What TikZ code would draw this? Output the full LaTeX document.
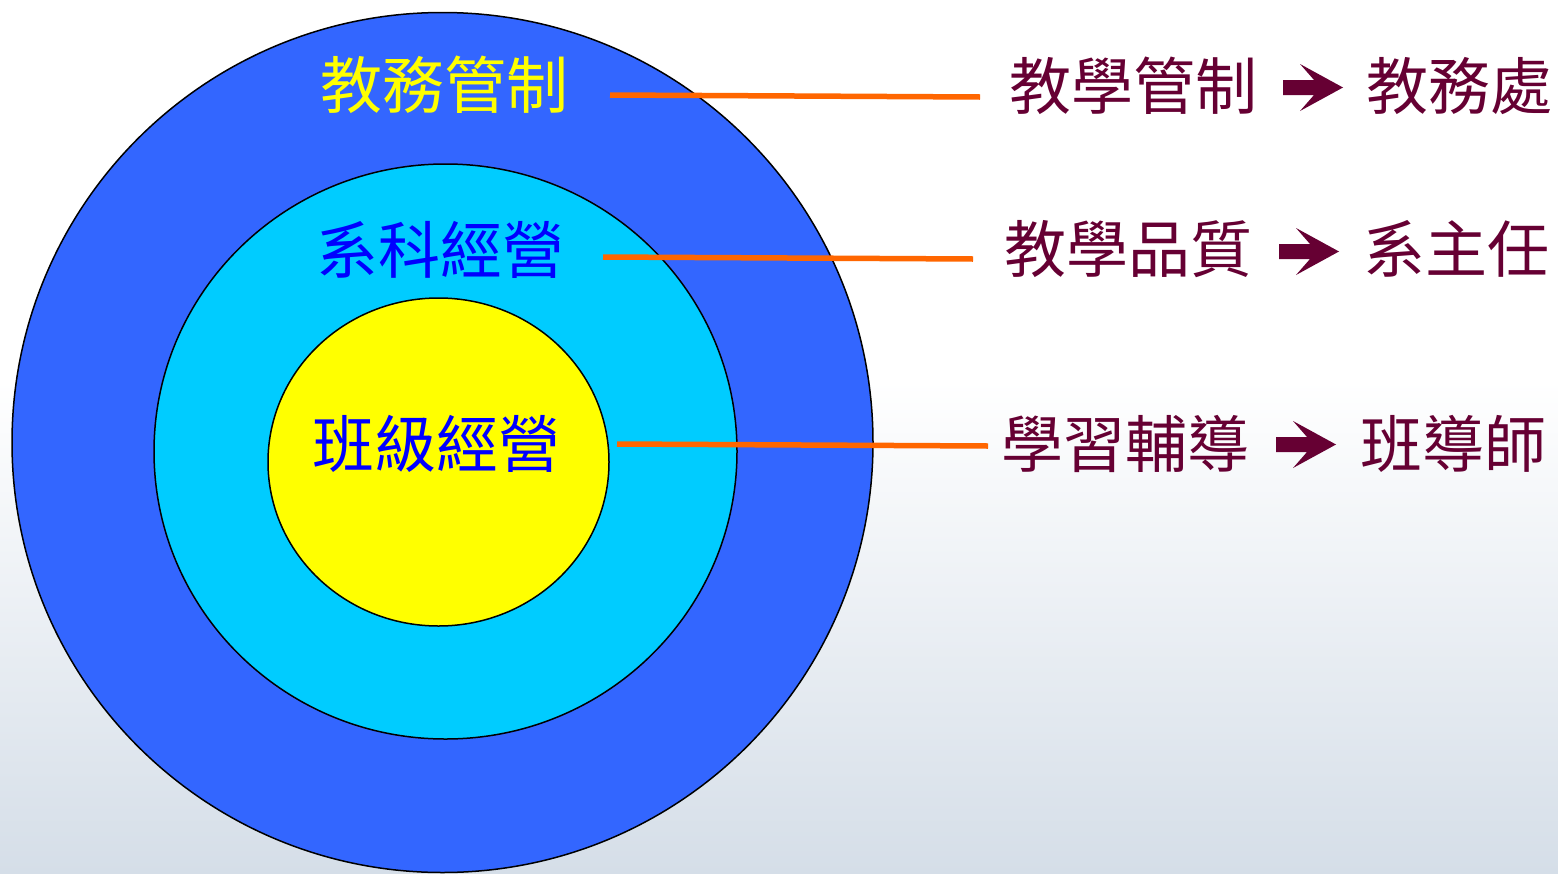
\documentclass[tikz,border=0pt]{standalone}
\usepackage{fontspec}
\newfontfamily\cjk{Noto Sans CJK TC}
\definecolor{ringblue}{RGB}{51,102,255}
\definecolor{ringcyan}{RGB}{0,204,255}
\definecolor{ringyellow}{RGB}{255,255,0}
\definecolor{linkorange}{RGB}{255,102,0}
\definecolor{maroon}{RGB}{102,0,51}
\definecolor{bgbottom}{RGB}{213,222,232}

\def\outerring{(442.5,442.5) ellipse [x radius=430.5, y radius=430]}
\def\middlering{(445.5,451.5) ellipse [x radius=291.5, y radius=287.5]}
\def\innerring{(438.5,462) ellipse [x radius=170.5, y radius=164]}
% heavy arrow, drawn from the left end of its shaft
\def\heavyarrow#1{\fill[maroon] (#1) ++(0,-7.5) -- ++(31,0) -- ++(-14,-16) -- ++(43,23.5) -- ++(-43,23.5) -- ++(14,-16) -- ++(-31,0) -- cycle;}

\tikzset{
  lbl/.style={font=\cjk\fontsize{31pt}{36pt}\selectfont, inner sep=0pt, anchor=base west},
  duty/.style={lbl, text=maroon},
  link/.style={draw=linkorange, line width=2.75pt},
}

\begin{document}
\begin{tikzpicture}[x=0.5pt,y=-0.5pt]

	\fill[white] (0,0) rectangle (1558,873);
	\shade[top color=white, bottom color=bgbottom] (0,380) rectangle (1558,873);
	\useasboundingbox (0,0) rectangle (1558,873);

	\filldraw[fill=ringblue, line width=0.75pt] \outerring;
	\filldraw[fill=ringcyan, line width=0.75pt] \middlering;
	\filldraw[fill=ringyellow, line width=0.75pt] \innerring;

	% ring labels
	\node[lbl, text=ringyellow] (outerlbl) at (320,108) {教務管制};
	\node[lbl, text=blue] (middlelbl) at (316,273) {系科經營};
	\node[lbl, text=blue] (innerlbl) at (312,467) {班級經營};

	% duties
	\node[duty] (taskA) at (1009,109) {教學管制};
	\node[duty] (unitA) at (1366,109) {教務處};
	\node[duty] (taskB) at (1004,272) {教學品質};
	\node[duty] (unitB) at (1363,272) {系主任};
	\node[duty] (taskC) at (1001,467) {學習輔導};
	\node[duty] (unitC) at (1360,467) {班導師};

	\coordinate (arA) at (1283,87.5);
	\coordinate (arB) at (1279,251.5);
	\coordinate (arC) at (1276,444.5);
	\heavyarrow{arA}
	\heavyarrow{arB}
	\heavyarrow{arC}

	% orange links
	\coordinate (fromA) at (610,95);   \coordinate (toA) at (980,97);
	\coordinate (fromB) at (603,257);  \coordinate (toB) at (973,259);
	\coordinate (fromC) at (617,444);  \coordinate (toC) at (988,446);
	\draw[link] (fromA) -- (toA);
	\draw[link] (fromB) -- (toB);
	\draw[link] (fromC) -- (toC);

\end{tikzpicture}
\end{document}
